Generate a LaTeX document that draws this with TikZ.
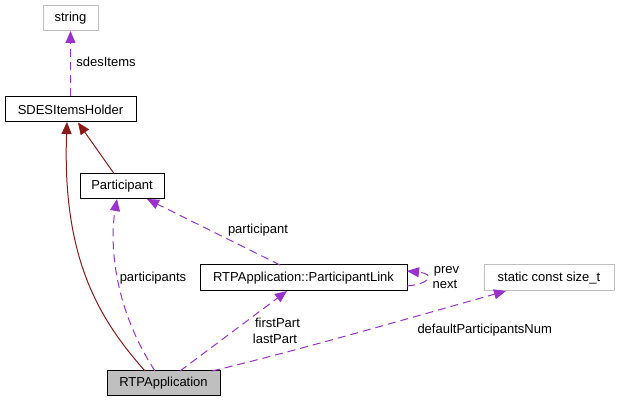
\documentclass[tikz,border=0pt]{standalone}
\usepackage{fontspec}
\setmainfont{Liberation Sans}
\usetikzlibrary{arrows.meta}
\definecolor{dep}{HTML}{9A32CD}
\definecolor{inh}{HTML}{8B1A1A}
\definecolor{boxgray}{HTML}{BFBFBF}
\tikzset{
  x=1pt, y=-1pt,
  every node/.style={font=\fontsize{13}{15}\selectfont, inner sep=0pt},
  cls/.style={draw=black, line width=1pt, fill=white, minimum height=25pt},
  ext/.style={draw=boxgray, line width=1pt, fill=white, minimum height=25pt},
  cur/.style={draw=black, line width=1pt, fill=boxgray, minimum height=25pt},
  depline/.style={draw=dep, line width=1pt, dash pattern=on 8pt off 5pt, -{Triangle[length=12pt,width=10pt]}},
  inhline/.style={draw=inh, line width=1pt, -{Triangle[length=12pt,width=10pt]}},
  lbl/.style={font=\fontsize{13}{15}\selectfont}
}
\begin{document}
\begin{tikzpicture}
\useasboundingbox (0,0) rectangle (619,403);
\fill[white] (0,0) rectangle (619,403);

\node[ext, minimum width=55pt] (string) at (70.5,18) {string};
\node[cls, minimum width=131pt] (sdes) at (70.5,109.5) {SDESItemsHolder};
\node[cls, minimum width=84pt] (part) at (122,186.5) {Participant};
\node[cls, minimum width=207pt, minimum height=26pt] (link) at (303.5,278) {RTPApplication::ParticipantLink};
\node[ext, minimum width=130pt, minimum height=26pt] (sizet) at (549,278) {static const size\_t};
\node[cur, minimum width=113pt] (app) at (163.5,383.5) {RTPApplication};

% sdes -> string
\draw[depline] (sdes.north) -- (string.south);
\node[lbl] (l1) at (106,62) {sdesItems};

% inheritance
\draw[inhline] (part.north -| 114,0) -- (sdes.south -| 78,0);
\coordinate (appinh) at (145,371);
\coordinate (sdesinh) at (67,122);
\draw[inhline] (appinh) .. controls (100,320) and (62,260) .. (sdesinh);

% app -> participant
\coordinate (appp) at (155,371);
\coordinate (partb) at (117,199);
\draw[depline] (appp) .. controls (112,305) and (110,240) .. (partb);
\node[lbl] (l2) at (153,278) {participants};

% link -> participant
\coordinate (linkt) at (280,265);
\coordinate (partb2) at (147,199);
\draw[depline] (linkt) -- (partb2);
\node[lbl] (l3) at (258,230) {participant};

% app -> link
\coordinate (appl) at (180,371);
\coordinate (linkb) at (287,291);
\draw[depline] (appl) -- (linkb);
\node[lbl] (l4) at (277.5,323) {firstPart};
\node[lbl] (l5) at (275,338.5) {lastPart};

% app -> size_t
\coordinate (apps) at (212,371);
\coordinate (sizeb) at (506,291);
\draw[depline] (apps) .. controls (300,350) and (420,315) .. (sizeb);
\node[lbl] (l6) at (484.7,330.5) {defaultParticipantsNum};

% self loop
\coordinate (lo) at (407,286);
\coordinate (li) at (407,271);
\draw[depline] (lo) .. controls (430,284) and (436,274) .. (li);
\node[lbl] (l7) at (446.5,271.5) {prev};
\node[lbl] (l8) at (445,284) {next};
\end{tikzpicture}
\end{document}
